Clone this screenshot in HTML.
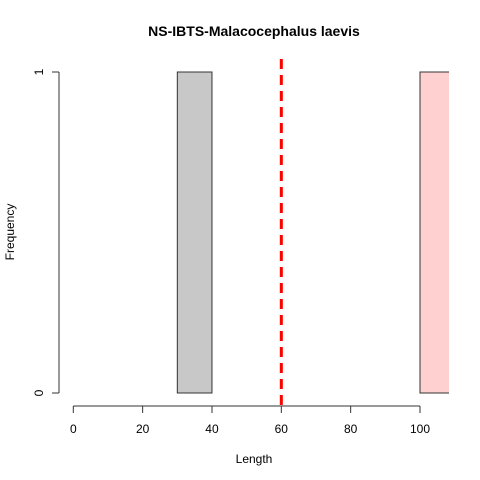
<!DOCTYPE html>
<html><head><meta charset="utf-8"><style>body{margin:0;background:#fff}svg{display:block;font-family:"Liberation Sans",Arial,sans-serif}</style></head>
<body>
<svg id="c" width="480" height="480" viewBox="0 0 480 480">
<rect width="480" height="480" fill="#fff"/>
<text x="254" y="36" text-anchor="middle" font-size="14" font-weight="bold">NS-IBTS-Malacocephalus laevis</text>
<text x="254" y="463" text-anchor="middle" font-size="12">Length</text>
<text transform="translate(14,232) rotate(-90)" text-anchor="middle" font-size="12">Frequency</text>
<defs><clipPath id="clip"><rect x="59" y="59" width="390" height="347"/></clipPath></defs>
<g id="bars" clip-path="url(#clip)"></g>
<g id="axes"></g>
</svg>
<script>
const binStarts=[30,100];
const binEnds=[40,110];
const counts=[1,1];
const barFills=["#c8c8c8","#ffd0d0"];
const xTicks=[0,20,40,60,80,100];
const yTicks=[0,1];
const refLine=60;
const NS="http://www.w3.org/2000/svg";
const X=v=>73.3+v*3.467;
const Y=v=>393-v*321;
function mk(t,a,p){const e=document.createElementNS(NS,t);for(const k in a)e.setAttribute(k,a[k]);p.appendChild(e);return e;}
const bars=document.getElementById('bars'),axes=document.getElementById('axes');
binStarts.forEach((s,i)=>{
 const r=mk('rect',{x:X(s),y:Y(counts[i]),width:X(binEnds[i])-X(s),height:Y(0)-Y(counts[i]),fill:barFills[i],stroke:"#333","stroke-width":1},bars);
 
 
});
const rl=mk('line',{x1:X(refLine),x2:X(refLine),y1:59,y2:410,stroke:"#ff0000","stroke-width":3,"stroke-dasharray":"10,6"},bars);


const xa=mk('line',{x1:X(xTicks[0]),x2:X(xTicks[xTicks.length-1]),y1:406,y2:406,stroke:"#333"},axes);


xTicks.forEach(t=>{
 mk('line',{x1:X(t),x2:X(t),y1:406,y2:413,stroke:"#333"},axes);
 const tx=mk('text',{x:X(t),y:433,"text-anchor":"middle","font-size":12},axes);tx.textContent=t;
 
 
});
const ya=mk('line',{x1:59,x2:59,y1:Y(yTicks[0]),y2:Y(yTicks[yTicks.length-1]),stroke:"#333"},axes);


yTicks.forEach(t=>{
 mk('line',{x1:52,x2:59,y1:Y(t),y2:Y(t),stroke:"#333"},axes);
 const tx=mk('text',{transform:`translate(43,${Y(t)}) rotate(-90)`,"text-anchor":"middle","font-size":12},axes);tx.textContent=t;
 
 
});
</script>
</body></html>
